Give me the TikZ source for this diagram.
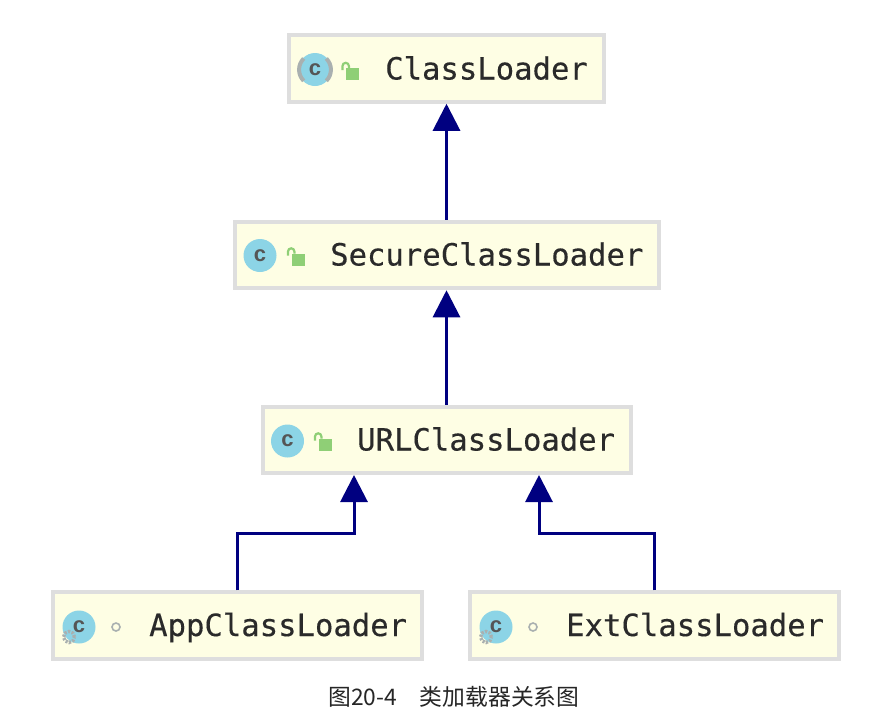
\documentclass[tikz,border=0pt]{standalone}
\usepackage{fontspec}
\setmonofont[FakeBold=0.35]{DejaVu Sans Mono}
\setsansfont{Liberation Sans}
\newfontfamily\cjk{Noto Sans CJK SC}
\usepackage{xcolor}
\usetikzlibrary{arrows.meta}
\definecolor{boxfill}{HTML}{FEFEE4}
\definecolor{boxline}{HTML}{DEDEDE}
\definecolor{inherit}{HTML}{000080}
\definecolor{iconblue}{HTML}{8CD4E6}
\definecolor{lockgreen}{HTML}{8FCF76}
\definecolor{marker}{HTML}{A9B0B0}
\definecolor{labeltext}{HTML}{2A2A2A}
\tikzset{
  cls/.style={draw=boxline, fill=boxfill, line width=4pt, inner sep=0pt, minimum height=66.5pt},
  lbl/.style={anchor=base west, inner sep=0pt, text=labeltext, font=\fontsize{30.6}{31}\selectfont\ttfamily},
  ico/.style={circle, fill=iconblue, minimum size=33pt, inner sep=0pt, text=labeltext!80, font=\fontsize{22}{22}\selectfont\sffamily\bfseries},
  pkg/.style={circle, draw=marker, line width=1.6pt, fill=boxfill, minimum size=8pt, inner sep=0pt},
  gear/.style={circle, draw=marker, dash pattern=on 2.2pt off 1.4pt, line width=3.4pt, minimum size=11pt, inner sep=0pt},
  inh/.style={draw=inherit, line width=3pt, -{Triangle[width=27pt,length=27pt]}},
  lockbody/.style={fill=lockgreen, draw=none, minimum width=13pt, minimum height=12pt, inner sep=0pt},
  lockbar/.style={draw=lockgreen, line width=2.2pt},
  absbar/.style={draw=marker, line width=4pt}
}
\begin{document}
\begin{tikzpicture}[x=1pt,y=-1pt]
\useasboundingbox (0,0) rectangle (880,721);
% class boxes
\node[cls, minimum width=314.5pt] (loader) at (446.5,68.5) {};
\node[cls, minimum width=424pt] (secure) at (446.5,255) {};
\node[cls, minimum width=368pt] (url) at (446.5,440) {};
\node[cls, minimum width=368.5pt] (app) at (237.5,625.5) {};
\node[cls, minimum width=368.5pt] (ext) at (654.5,625.5) {};
% names
\node[lbl] (loadername) at (385,79.5) {ClassLoader};
\node[lbl] (securename) at (330,265.5) {SecureClassLoader};
\node[lbl] (urlname) at (357,450.5) {URLClassLoader};
\node[lbl] (appname) at (149,636) {AppClassLoader};
\node[lbl] (extname) at (566,636) {ExtClassLoader};
% class icons
\node[ico] (loaderico) at (315,69.5) {c};
\node[ico] (secureico) at (260,255.5) {c};
\node[ico] (urlico) at (287.5,441) {c};
\node[ico] (appico) at (79,627) {c};
\node[ico] (extico) at (496,627) {c};
\draw[absbar] (303.7,58.5) arc (225:135:15.8);
\draw[absbar] (326.3,58.5) arc (-45:45:15.8);
\node[gear] (appgear) at (69,637) {};
\node[gear] (extgear) at (486,637) {};
% open locks
\foreach \nm/\x/\y in {loader/352.5/74, secure/298/259.5, url/325/444.5}{
  \node[lockbody] (\nm lock) at (\x,\y) {};
  \draw[lockbar] (\x-10,\y-4) -- (\x-10,\y-8) arc (180:360:3.2) -- (\x-3.6,\y-6);
}
% package markers
\node[pkg] (apppkg) at (116,627) {};
\node[pkg] (extpkg) at (533,627) {};
% inheritance
\coordinate (urlleft) at (354,475);
\coordinate (urlright) at (539,475);
\coordinate (appbend) at (354,533);
\coordinate (extbend) at (539,533);
\draw[inh] (secure.north) -- (loader.south);
\draw[inh] (url.north) -- (secure.south);
\draw[inh] (app.north) |- (appbend) -- (urlleft);
\draw[inh] (ext.north) |- (extbend) -- (urlright);
% caption
\node[inner sep=0pt, text=black!85, font=\fontsize{22.8}{23}\selectfont\cjk] (caption) at (454,697) {图20-4\quad 类加载器关系图};
\end{tikzpicture}
\end{document}
